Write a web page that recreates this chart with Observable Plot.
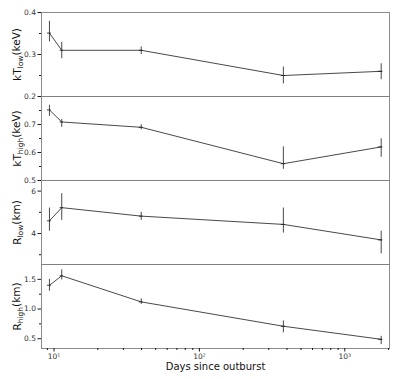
<!DOCTYPE html>
<html>
<head>
<meta charset="utf-8">
<script src="https://cdn.jsdelivr.net/npm/d3@7"></script>
<script src="https://cdn.jsdelivr.net/npm/@observablehq/plot@0.6"></script>
<style>
  html, body { margin: 0; padding: 0; background: #fff; }
  #chart { width: 407px; position: relative; }
  #chart svg { display: block; font-family: "DejaVu Sans", sans-serif; overflow: visible; background: transparent; position: relative; }
</style>
</head>
<body>
<div id="chart"></div>
<script>
// ---- data ----
const days    = [9.3, 11.3, 39.8, 378, 1780];
const daysLo  = [9.0, 11.0, 38.6, 366, 1700];
const daysHi  = [9.6, 11.6, 41.0, 392, 1830];

const kTlow   = [0.351, 0.310, 0.310, 0.250, 0.260];
const kTlowLo = [0.330, 0.290, 0.300, 0.230, 0.240];
const kTlowHi = [0.379, 0.329, 0.318, 0.270, 0.278];

const kThigh   = [0.752, 0.709, 0.690, 0.560, 0.620];
const kThighLo = [0.729, 0.690, 0.681, 0.540, 0.583];
const kThighHi = [0.769, 0.718, 0.699, 0.620, 0.649];

const Rlow   = [4.60, 5.22, 4.82, 4.43, 3.70];
const RlowLo = [4.11, 4.62, 4.62, 4.02, 3.04];
const RlowHi = [5.20, 5.88, 5.00, 5.20, 4.11];

const Rhigh   = [1.40, 1.56, 1.12, 0.71, 0.49];
const RhighLo = [1.30, 1.49, 1.08, 0.60, 0.40];
const RhighHi = [1.50, 1.66, 1.17, 0.80, 0.54];

const xTicks = [10, 100, 1000];
const xTickLabels = ["10\u00B9", "10\u00B2", "10\u00B3"];
const xMinor = [9, 20, 30, 40, 50, 60, 70, 80, 90, 200, 300, 400, 500, 600, 700, 800, 900, 2000];
const xLabel = "Days since outburst";

const panels = [
  {v: kTlow, lo: kTlowLo, hi: kTlowHi, domain: [0.2, 0.4], ticks: [0.2, 0.3, 0.4], minor: [0.25, 0.35], fmt: d3.format(".1f"), main: "kT", sub: "low", unit: "(keV)"},
  {v: kThigh, lo: kThighLo, hi: kThighHi, domain: [0.5, 0.8], ticks: [0.5, 0.6, 0.7], minor: [0.55, 0.65, 0.75], fmt: d3.format(".1f"), main: "kT", sub: "high", unit: "(keV)"},
  {v: Rlow, lo: RlowLo, hi: RlowHi, domain: [2.54, 6.5], ticks: [4, 6], minor: [3, 5], fmt: d3.format("d"), main: "R", sub: "low", unit: "(km)"},
  {v: Rhigh, lo: RhighLo, hi: RhighHi, domain: [0.335, 1.75], ticks: [0.5, 1.0, 1.5], minor: [0.75, 1.25], fmt: d3.format(".1f"), main: "R", sub: "high", unit: "(km)"}
];

const ink = "#1a1a1a";
const frameColor = "#808080";
const container = document.getElementById("chart");

panels.forEach((p, i) => {
  const data = days.map((d, k) => ({d, dlo: daysLo[k], dhi: daysHi[k], v: p.v[k], lo: p.lo[k], hi: p.hi[k]}));
  const isTop = i === 0, isBottom = i === panels.length - 1;
  const marginTop = isTop ? 12 : 0;
  const marginBottom = isBottom ? 31 : 0;
  const labelText = p.main + p.sub + p.unit;
  const marks = [
    Plot.axisY(p.ticks, {tickSize: 3.5, tickPadding: 2, fontSize: 7.5, tickFormat: p.fmt, label: null, stroke: ink, fill: "#333"}),
    Plot.axisY(p.minor, {tickSize: 2, text: null, label: null, stroke: ink}),
    Plot.line(data, {x: "d", y: "v", stroke: ink, strokeWidth: 0.8}),
    Plot.ruleX(data, {x: "d", y1: "lo", y2: "hi", stroke: ink, strokeWidth: 0.8}),
    Plot.ruleY(data, {y: "v", x1: "dlo", x2: "dhi", stroke: ink, strokeWidth: 0.8}),
    Plot.text([labelText], {frameAnchor: "left", dx: -24, rotate: -90, textAnchor: "middle", lineAnchor: "middle", fontSize: 10.5, fill: "#111"}),
    Plot.frame({stroke: frameColor, strokeWidth: 0.9})
  ];
  if (isBottom) {
    marks.push(
      Plot.axisX(xTicks, {tickSize: 3.5, tickPadding: 2, fontSize: 7.5, tickFormat: (d) => xTickLabels[xTicks.indexOf(d)], label: null, stroke: ink, fill: "#333"}),
      Plot.axisX(xMinor, {tickSize: 2, text: null, label: null, stroke: ink}),
      Plot.text([xLabel], {frameAnchor: "bottom", dy: 18, textAnchor: "middle", lineAnchor: "middle", fontSize: 10, fill: "#111"})
    );
  }
  const svg = Plot.plot({
    width: 407,
    height: 84 + marginTop + marginBottom,
    marginLeft: 41,
    marginRight: 18,
    marginTop,
    marginBottom,
    style: {background: "transparent", overflow: "visible", fontFamily: "DejaVu Sans, sans-serif"},
    x: {type: "log", domain: [8.2, 2030], axis: null},
    y: {domain: p.domain, axis: null},
    marks
  });
  // turn the y label into text with a subscript
  d3.select(svg).selectAll("text").filter(function() { return this.textContent === labelText; })
    .each(function() {
      const t = d3.select(this);
      t.text(null);
      t.append("tspan").text(p.main);
      t.append("tspan").attr("font-size", 7.5).attr("dy", "0.3em").text(p.sub);
      t.append("tspan").attr("dy", "-0.3em").text(p.unit);
    });
  container.appendChild(svg);
});
</script>
</body>
</html>
